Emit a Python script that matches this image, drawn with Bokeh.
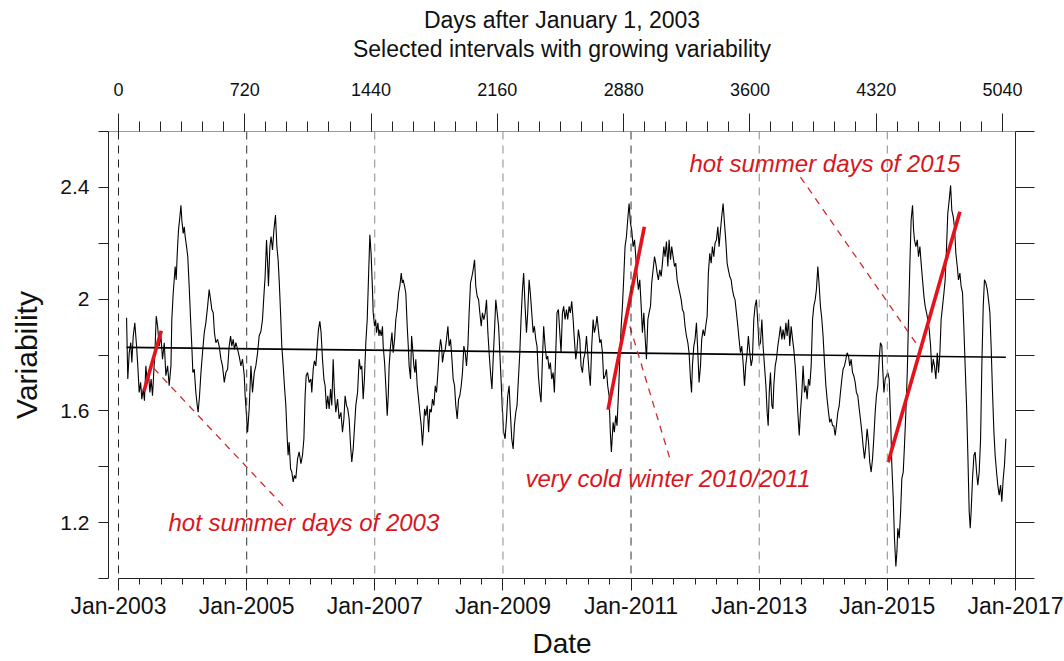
from bokeh.plotting import figure
from bokeh.models import (Range1d, LinearAxis, FixedTicker, CustomJSTickFormatter,
                          Span, Title, Label)
from bokeh.embed import file_html
from bokeh.resources import INLINE
import pandas as pd

# ---------------- data (days after 2003-01-01, variability) ----------------
days = [
    46, 53, 61, 70, 76, 84, 93, 103, 110, 118, 126, 133, 141, 148, 156, 164, 171, 179, 186, 194,
    202, 209, 215, 223, 232, 242, 251, 261, 270, 280, 289, 299, 304, 312, 319, 323, 329, 335, 342, 350,
    356, 361, 369, 375, 380, 388, 395, 403, 411, 418, 424, 432, 441, 449, 454, 462, 470, 479, 489, 498,
    508, 517, 525, 532, 540, 547, 555, 565, 574, 584, 593, 603, 612, 622, 631, 639, 646, 654, 661, 669,
    679, 688, 698, 707, 717,
    722, 736, 745, 755, 764, 774, 783, 793, 802, 812, 821, 831, 836, 844, 850, 855, 863, 870, 878, 886,
    895, 903, 910, 916, 924, 931, 939, 946, 954, 962, 967, 973, 981, 988, 996, 1003, 1011, 1021, 1030, 1040,
    1049, 1057, 1064, 1070, 1078, 1087, 1097, 1102, 1110, 1117, 1125, 1133, 1140, 1148, 1155, 1163, 1171, 1178, 1186, 1193,
    1201, 1209, 1216, 1224, 1231, 1239, 1249, 1258, 1268, 1277, 1285, 1292, 1300, 1307, 1315, 1323, 1330, 1338, 1345, 1353,
    1363, 1372, 1380, 1387, 1395, 1402, 1410, 1418, 1425, 1433, 1440, 1448,
    1452, 1460, 1466, 1471, 1479, 1485, 1490, 1498, 1505, 1509, 1517, 1524, 1532, 1538, 1543, 1551, 1559, 1566, 1574, 1581,
    1589, 1597, 1604, 1612, 1618, 1623, 1631, 1638, 1646, 1652, 1657, 1665, 1671, 1676, 1684, 1690, 1695, 1703, 1711, 1718,
    1726, 1733, 1739, 1745, 1752, 1760, 1768, 1775, 1783, 1790, 1798, 1806, 1813, 1821, 1828, 1836, 1842, 1847, 1855, 1863,
    1870, 1878, 1885, 1893, 1901, 1908, 1916, 1923, 1931, 1939, 1946, 1954, 1961, 1969, 1977, 1984, 1992, 1999, 2007, 2015,
    2022, 2030, 2037, 2045, 2053, 2060, 2068, 2075, 2083, 2091, 2098, 2106, 2113, 2121, 2129, 2136, 2144, 2151, 2159, 2167,
    2181, 2189, 2196, 2204, 2212, 2219, 2227, 2234, 2242, 2250, 2257, 2265, 2272, 2280, 2288, 2295, 2303, 2310, 2318, 2326,
    2333, 2341, 2348, 2356, 2364, 2371, 2379, 2386, 2394, 2402, 2409, 2417, 2424, 2432, 2440, 2447, 2455, 2462, 2470, 2478,
    2485, 2493, 2500, 2508, 2516, 2523, 2531, 2538, 2546, 2554, 2561, 2569, 2576, 2584, 2592, 2599, 2607, 2614, 2622, 2630,
    2637, 2645, 2652, 2660, 2668, 2675, 2683, 2690, 2698, 2706, 2713, 2721, 2728, 2736, 2744, 2751, 2759, 2766, 2774, 2782,
    2789, 2797, 2804, 2810, 2820, 2827, 2835, 2842, 2850, 2858, 2865, 2873, 2880, 2888, 2896, 2903, 2911,
    2919, 2926, 2934, 2942, 2949, 2957, 2964, 2972, 2980, 2987, 2995, 3002, 3010, 3018, 3025, 3033, 3040, 3048, 3056, 3063,
    3071, 3078, 3086, 3094, 3101, 3109, 3116, 3124, 3132, 3139, 3147, 3154, 3162, 3170, 3177, 3185, 3192, 3200, 3208, 3215,
    3223, 3230, 3238, 3246, 3253, 3261, 3267, 3272, 3280, 3287, 3295, 3303, 3310, 3318, 3325, 3333, 3341, 3348, 3356, 3363,
    3371, 3379, 3386, 3394, 3401, 3409, 3417, 3424, 3432, 3439, 3447, 3455, 3462, 3470, 3477, 3485, 3493, 3500, 3508, 3515,
    3523, 3531, 3538, 3546, 3553, 3561, 3569, 3576, 3584, 3591, 3599, 3607, 3614, 3622, 3629, 3637, 3645, 3652,
    3660, 3668, 3675, 3683, 3691, 3698, 3704, 3710, 3717, 3725, 3731, 3736, 3744, 3751, 3759, 3767, 3774, 3782, 3789, 3797,
    3805, 3812, 3820, 3827, 3835, 3843, 3850, 3858, 3865, 3873, 3881, 3888, 3896, 3903, 3911, 3919, 3926, 3934, 3941, 3949,
    3957, 3964, 3972, 3979, 3987, 3995, 4002, 4010, 4017, 4025, 4033, 4040, 4048, 4055, 4063, 4071, 4078, 4086, 4093, 4101,
    4109, 4116, 4124, 4131, 4139, 4147, 4154, 4162, 4169, 4177, 4185, 4192, 4200, 4207, 4215, 4223, 4230, 4238, 4245, 4253,
    4261, 4268, 4276, 4283, 4291, 4299, 4306, 4314, 4321, 4329, 4337, 4344, 4352,
    4356, 4364, 4371, 4379, 4386, 4394, 4402, 4409, 4417, 4424, 4432, 4438, 4443, 4451, 4459, 4466, 4474, 4481, 4489, 4497,
    4504, 4512, 4519, 4527, 4533, 4538, 4546, 4554, 4561, 4569, 4576, 4584, 4592, 4599, 4607, 4614, 4622, 4630, 4637, 4645,
    4652, 4660, 4668, 4675, 4683, 4690, 4698, 4706, 4713, 4721, 4728, 4736, 4744, 4751, 4759, 4766, 4774, 4782, 4789, 4797,
    4804, 4812, 4820, 4827, 4835, 4842, 4850, 4856, 4861, 4869, 4877, 4884, 4892, 4899, 4907, 4915, 4922, 4930, 4937, 4945,
    4953, 4960, 4968, 4975, 4983, 4991, 4998, 5006, 5013, 5021, 5029, 5036, 5044, 5051, 5059,
]
variability = [
    1.933, 1.714, 1.808, 1.844, 1.773, 1.868, 1.915, 1.832, 1.761, 1.666, 1.702, 1.642, 1.678, 1.636, 1.761, 1.702, 1.737, 1.666, 1.714, 1.654,
    1.749, 1.832, 1.939, 1.903, 1.832, 1.868, 1.785, 1.844, 1.726, 1.761, 1.690, 1.761, 1.927, 2.022, 2.081, 2.117, 2.069, 2.164, 2.247, 2.295,
    2.336, 2.283, 2.235, 2.259, 2.224, 2.188, 2.152, 2.046, 1.927, 1.832, 1.737, 1.749, 1.666, 1.619, 1.595, 1.654, 1.737, 1.808, 1.880, 1.915,
    1.974, 2.034, 1.998, 1.963, 1.951, 1.880, 1.844, 1.856, 1.832, 1.785, 1.761, 1.702, 1.737, 1.749, 1.832, 1.868, 1.832, 1.856, 1.820, 1.844,
    1.820, 1.796, 1.761, 1.785, 1.726,
    1.654, 1.524, 1.607, 1.761, 1.666, 1.737, 1.761, 1.808, 1.868, 1.885, 1.927, 2.034, 2.081, 2.212, 2.129, 2.046, 2.188, 2.224, 2.176, 2.247,
    2.301, 2.188, 2.141, 2.069, 1.951, 1.832, 1.761, 1.690, 1.619, 1.500, 1.441, 1.488, 1.393, 1.381, 1.346, 1.369, 1.358, 1.429, 1.453, 1.411,
    1.441, 1.500, 1.654, 1.726, 1.737, 1.702, 1.714, 1.666, 1.749, 1.779, 1.761, 1.832, 1.891, 1.921, 1.880, 1.785, 1.714, 1.690, 1.607, 1.654,
    1.607, 1.678, 1.619, 1.785, 1.666, 1.595, 1.642, 1.571, 1.595, 1.524, 1.571, 1.654, 1.619, 1.607, 1.571, 1.476, 1.417, 1.464, 1.536, 1.619,
    1.666, 1.785, 1.749, 1.761, 1.642, 1.714, 1.844, 1.927, 2.069, 2.230, 2.164, 2.034,
    1.951, 1.903, 1.927, 1.880, 1.915, 1.868, 1.891, 1.868, 1.903, 1.832, 1.773, 1.690, 1.583, 1.654, 1.761, 1.832, 1.880, 1.808, 1.856, 1.927,
    1.963, 2.022, 2.046, 2.093, 2.058, 2.069, 2.046, 2.022, 1.903, 1.832, 1.761, 1.714, 1.868, 1.832, 1.761, 1.737, 1.785, 1.690, 1.642, 1.595,
    1.547, 1.476, 1.536, 1.607, 1.583, 1.619, 1.524, 1.607, 1.595, 1.642, 1.619, 1.690, 1.666, 1.737, 1.808, 1.856, 1.832, 1.773, 1.808, 1.820,
    1.856, 1.903, 1.832, 1.856, 1.785, 1.714, 1.690, 1.619, 1.571, 1.642, 1.654, 1.690, 1.737, 1.832, 1.808, 1.761, 1.832, 1.951, 2.058, 2.081,
    2.105, 2.141, 2.046, 2.010, 1.998, 1.951, 1.903, 1.951, 1.927, 1.951, 1.998, 1.880, 1.808, 1.737, 1.678, 1.785, 1.891, 1.998, 1.951, 1.903,
    1.714, 1.595, 1.524, 1.500, 1.571, 1.654, 1.690, 1.595, 1.500, 1.464, 1.547, 1.595, 1.619, 1.714, 1.808, 1.927, 2.034, 2.093, 1.974, 1.880,
    1.951, 2.069, 2.022, 1.951, 1.880, 1.903, 1.856, 1.832, 1.726, 1.666, 1.631, 1.785, 1.903, 1.832, 1.785, 1.796, 1.749, 1.773, 1.714, 1.737,
    1.666, 1.808, 1.951, 1.963, 1.880, 1.808, 1.951, 1.974, 1.927, 1.963, 1.927, 1.974, 1.951, 1.992, 1.927, 1.856, 1.785, 1.820, 1.891, 1.856,
    1.761, 1.737, 1.785, 1.808, 1.868, 1.808, 1.737, 1.690, 1.832, 1.927, 1.880, 1.903, 1.939, 1.891, 1.844, 1.856, 1.808, 1.714, 1.726, 1.749,
    1.690, 1.654, 1.524, 1.453, 1.559, 1.524, 1.583, 1.547, 1.654, 1.785, 1.891, 1.974, 2.069, 2.188, 2.224, 2.283, 2.342,
    2.271, 2.247, 2.188, 2.212, 2.152, 2.081, 2.034, 2.069, 1.974, 1.880, 1.951, 1.868, 1.785, 1.927, 1.951, 1.974, 2.058, 2.105, 2.152, 2.129,
    2.093, 2.069, 2.105, 2.081, 2.129, 2.188, 2.152, 2.206, 2.117, 2.212, 2.141, 2.188, 2.152, 2.117, 2.129, 2.069, 2.046, 2.022, 1.998, 1.963,
    1.951, 1.903, 1.868, 1.844, 1.808, 1.714, 1.666, 1.761, 1.832, 1.856, 1.915, 1.808, 1.702, 1.761, 1.856, 1.891, 1.868, 1.903, 1.939, 2.093,
    2.164, 2.129, 2.188, 2.152, 2.200, 2.212, 2.259, 2.188, 2.247, 2.295, 2.342, 2.271, 2.212, 2.129, 2.105, 2.081, 2.069, 2.034, 2.010, 1.998,
    1.951, 1.903, 1.856, 1.808, 1.832, 1.773, 1.690, 1.761, 1.808, 1.868, 1.808, 1.761, 1.785, 1.927, 1.974, 1.998, 1.915, 1.832,
    1.844, 1.927, 1.832, 1.761, 1.690, 1.595, 1.547, 1.666, 1.737, 1.619, 1.607, 1.690, 1.761, 1.785, 1.832, 1.868, 1.903, 1.856, 1.891, 1.856,
    1.915, 1.868, 1.927, 1.832, 1.903, 1.856, 1.820, 1.761, 1.690, 1.595, 1.512, 1.595, 1.666, 1.761, 1.666, 1.690, 1.642, 1.714, 1.690, 1.761,
    1.927, 1.974, 1.998, 2.034, 2.117, 2.046, 1.974, 1.927, 1.868, 1.773, 1.690, 1.642, 1.595, 1.559, 1.571, 1.547, 1.547, 1.512, 1.547, 1.595,
    1.619, 1.666, 1.714, 1.749, 1.761, 1.785, 1.808, 1.796, 1.761, 1.785, 1.737, 1.726, 1.702, 1.666, 1.654, 1.607, 1.571, 1.524, 1.476, 1.429,
    1.476, 1.536, 1.488, 1.417, 1.381, 1.429, 1.500, 1.595, 1.654, 1.690, 1.785, 1.844, 1.832,
    1.761, 1.666, 1.714, 1.726, 1.737, 1.714, 1.571, 1.405, 1.287, 1.144, 1.043, 1.097, 1.180, 1.144, 1.239, 1.358, 1.381, 1.476, 1.595, 1.737,
    1.927, 2.129, 2.283, 2.336, 2.247, 2.212, 2.188, 2.212, 2.152, 2.188, 2.129, 2.069, 2.010, 1.974, 1.951, 1.927, 1.891, 1.832, 1.737, 1.785,
    1.761, 1.714, 1.808, 1.737, 1.808, 1.927, 1.974, 2.022, 2.069, 2.188, 2.307, 2.354, 2.407, 2.318, 2.295, 2.259, 2.164, 2.117, 2.069, 2.093,
    2.046, 2.022, 1.891, 1.761, 1.619, 1.453, 1.239, 1.180, 1.239, 1.358, 1.441, 1.453, 1.381, 1.334, 1.381, 1.500, 1.761, 1.974, 2.069, 2.058,
    2.034, 1.998, 1.951, 1.832, 1.666, 1.524, 1.441, 1.381, 1.334, 1.298, 1.334, 1.275, 1.358, 1.405, 1.500,
]

# linear trend of the whole record
trend_days = [46, 5059]
trend_values = [1.827, 1.792]

# selected intervals with growing variability (red lines)
interval_start_day = [145, 2791, 4388]
interval_end_day = [244, 2998, 4797]
interval_start_val = [1.670, 1.604, 1.416]
interval_end_val = [1.887, 2.259, 2.313]

# axes
date_tick_days = [0, 731, 1461, 2192, 2922, 3653, 4383, 5114]
date_tick_labels = ["Jan-2003", "Jan-2005", "Jan-2007", "Jan-2009",
                    "Jan-2011", "Jan-2013", "Jan-2015", "Jan-2017"]
top_tick_days = [0, 720, 1440, 2160, 2880, 3600, 4320, 5040]
y_major = [1.2, 1.6, 2.0, 2.4]
y_minor = [1.0, 1.4, 1.8, 2.2, 2.6]
y_all = [1.0, 1.2, 1.4, 1.6, 1.8, 2.0, 2.2, 2.4, 2.6]

annotation_texts = ["hot summer days of 2003", "very cold winter 2010/2011", "hot summer days of 2015"]

# ---------------- figure ----------------
FONT = "Liberation Sans"
RED = "#e3121b"
TXT_RED = "#d9161e"

p = figure(width=1064, height=661, x_range=Range1d(-57, 5114), y_range=Range1d(1.0, 2.6),
           output_backend="svg", toolbar_location=None,
           x_axis_location=None, y_axis_location=None,
           min_border_left=108, min_border_right=49, min_border_top=131, min_border_bottom=80)
p.grid.visible = False
p.outline_line_color = None
p.background_fill_color = "white"
p.border_fill_color = "white"

# vertical dashed date lines
dash_colors = ["#222222", "#333333", "#8a8a8a", "#8a8a8a", "#333333", "#8a8a8a", "#8a8a8a"]
for d, c in zip(date_tick_days[:-1], dash_colors):
    p.add_layout(Span(location=d, dimension="height", line_color=c,
                      line_dash="8 6", line_width=1))

# series and trend
p.line(days, variability, line_color="black", line_width=1.1)
p.line(trend_days, trend_values, line_color="black", line_width=1.7)

# leader lines (annotation positions)
lead_x0 = [200, 2915, 3888]
lead_y0 = [1.753, 1.903, 2.437]
lead_x1 = [963, 3143, 4568]
lead_y1 = [1.244, 1.430, 1.823]
p.segment(x0=lead_x0, y0=lead_y0, x1=lead_x1, y1=lead_y1,
          line_color="#d02a2a", line_width=1.3, line_dash="7 6")

# red interval lines
p.segment(x0=interval_start_day, y0=interval_start_val, x1=interval_end_day, y1=interval_end_val,
          line_color=RED, line_width=3.6)

label_pos = [(285, 1.201), (2320, 1.358), (3255, 2.486)]
for (lx, ly), t in zip(label_pos, annotation_texts):
    p.add_layout(Label(x=lx, y=ly, text=t, text_font=FONT, text_font_style="italic",
                       text_font_size="24px", text_color=TXT_RED, text_baseline="middle",
                       text_align="left"))

# ---------------- axes ----------------
def style(ax):
    ax.axis_line_color = "#222222"
    ax.major_tick_line_color = "#222222"
    ax.minor_tick_line_color = "#222222"
    ax.major_tick_in = 0
    ax.minor_tick_in = 0
    ax.major_label_text_font = FONT
    ax.axis_label_text_font = FONT
    ax.axis_label_text_font_style = "normal"
    ax.major_label_text_color = "#111111"
    ax.axis_label_text_color = "#111111"

# bottom date axis
bottom_minor = [(d - pd.Timestamp("2003-01-01")).days
                for d in pd.date_range("2003-01-01", "2017-01-01", freq="4MS")]
xb = LinearAxis(ticker=FixedTicker(ticks=date_tick_days, minor_ticks=bottom_minor),
                formatter=CustomJSTickFormatter(args=dict(t=date_tick_days, l=date_tick_labels),
                                                code="const i = t.indexOf(tick); return i >= 0 ? l[i] : '';"),
                axis_label="Date", bounds=(0, 5114))
style(xb)
xb.major_tick_out = 12
xb.minor_tick_out = 6
xb.major_label_standoff = 2
xb.major_label_text_font_size = "23px"
xb.axis_label_text_font_size = "28px"
xb.axis_label_standoff = 6
p.add_layout(xb, "below")

# left axis
yl = LinearAxis(ticker=FixedTicker(ticks=y_major, minor_ticks=y_minor),
                formatter=CustomJSTickFormatter(code="return String(Math.round(tick*10)/10);"),
                axis_label="Variability")
style(yl)
yl.major_tick_out = 10
yl.minor_tick_out = 10
yl.major_label_standoff = 9
yl.major_label_text_font_size = "21px"
yl.axis_label_text_font_size = "30px"
yl.axis_label_standoff = 14
p.add_layout(yl, "left")

# right axis (ticks only)
yr = LinearAxis(ticker=FixedTicker(ticks=y_all, minor_ticks=[]),
                formatter=CustomJSTickFormatter(code="return '';"))
style(yr)
yr.major_tick_out = 19
yr.major_label_text_font_size = "1px"
p.add_layout(yr, "right")

# top days axis
top_minor = list(range(0, 5041, 120))
xt = LinearAxis(ticker=FixedTicker(ticks=top_tick_days, minor_ticks=top_minor),
                axis_label="Selected intervals with growing variability")
style(xt)
xt.axis_line_color = "#9a9a9a"
xt.major_tick_out = 18
xt.minor_tick_out = 10
xt.major_label_standoff = 18
xt.major_label_text_font_size = "18px"
xt.axis_label_text_font_size = "23px"
xt.axis_label_standoff = 18
p.add_layout(xt, "above")

p.add_layout(Title(text="Days after January 1, 2003", align="center", text_font=FONT,
                   text_font_size="23px", text_font_style="normal", text_color="#111111",
                   standoff=0), "above")

open("out.html", "w").write(file_html(p, INLINE))
